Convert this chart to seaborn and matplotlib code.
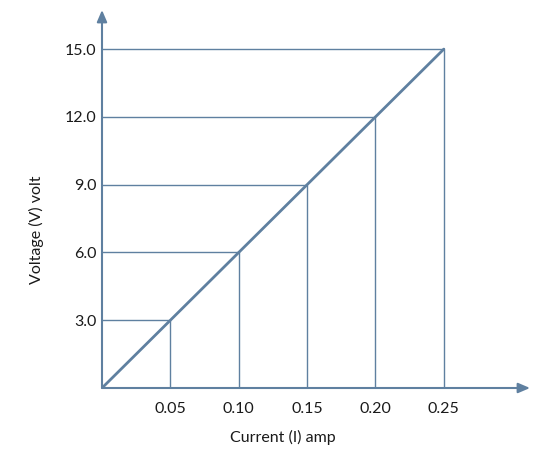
import matplotlib
matplotlib.use("Agg")
import matplotlib.pyplot as plt
import seaborn as sns
import pandas as pd

current = [0.0, 0.05, 0.10, 0.15, 0.20, 0.25]
voltage = [0.0, 3.0, 6.0, 9.0, 12.0, 15.0]
x_ticks = [0.05, 0.10, 0.15, 0.20, 0.25]
x_tick_labels = ["0.05", "0.10", "0.15", "0.20", "0.25"]
y_ticks = [3.0, 6.0, 9.0, 12.0, 15.0]
y_tick_labels = ["3.0", "6.0", "9.0", "12.0", "15.0"]

sns.set_style("white")
plt.rcParams['font.family'] = ['Lato', 'DejaVu Sans']

COL = "#5f80a0"
TXT = "#1a1a1a"
W, H = 559, 451
fig = plt.figure(figsize=(W / 100, H / 100), dpi=100)
ax = fig.add_axes([102 / W, (H - 388) / H, 428 / W, 378 / H])

df = pd.DataFrame({"I": current, "V": voltage})
sns.lineplot(data=df, x="I", y="V", ax=ax, color=COL, linewidth=2.0)

# drop lines
for xi, yi in zip(current[1:], voltage[1:]):
    ax.vlines(xi, 0, yi, color=COL, linewidth=1.0)
    ax.hlines(yi, 0, xi, color=COL, linewidth=1.0)

ax.set_xlim(0, 0.313)
ax.set_ylim(0, 16.73)
for s in ax.spines.values():
    s.set_visible(False)

# axes with arrows
ax.annotate("", xy=(1.0, 0), xytext=(0, 0), xycoords="axes fraction",
            arrowprops=dict(arrowstyle="-|>,head_length=0.7,head_width=0.3",
                            color=COL, lw=1.5, shrinkA=0, shrinkB=0))
ax.annotate("", xy=(0, 1.0), xytext=(0, 0), xycoords="axes fraction",
            arrowprops=dict(arrowstyle="-|>,head_length=0.7,head_width=0.3",
                            color=COL, lw=1.5, shrinkA=0, shrinkB=0))

ax.set_xticks(x_ticks)
ax.set_xticklabels(x_tick_labels)
ax.set_yticks(y_ticks)
ax.set_yticklabels(y_tick_labels)
ax.tick_params(axis="both", length=0, labelsize=11.5, colors=TXT)
ax.tick_params(axis="x", pad=10)
ax.tick_params(axis="y", pad=4)

ax.set_xlabel("Current (I) amp", fontsize=11.5, color=TXT)
ax.set_ylabel("Voltage (V) volt", fontsize=11.5, color=TXT)
ax.xaxis.set_label_coords((283 - 102) / 428, -(430 - 388) / 378)
ax.yaxis.set_label_coords(-(102 - 44) / 428, (388 - 230) / 378)

fig.savefig("out.png", dpi=100, facecolor="white")
